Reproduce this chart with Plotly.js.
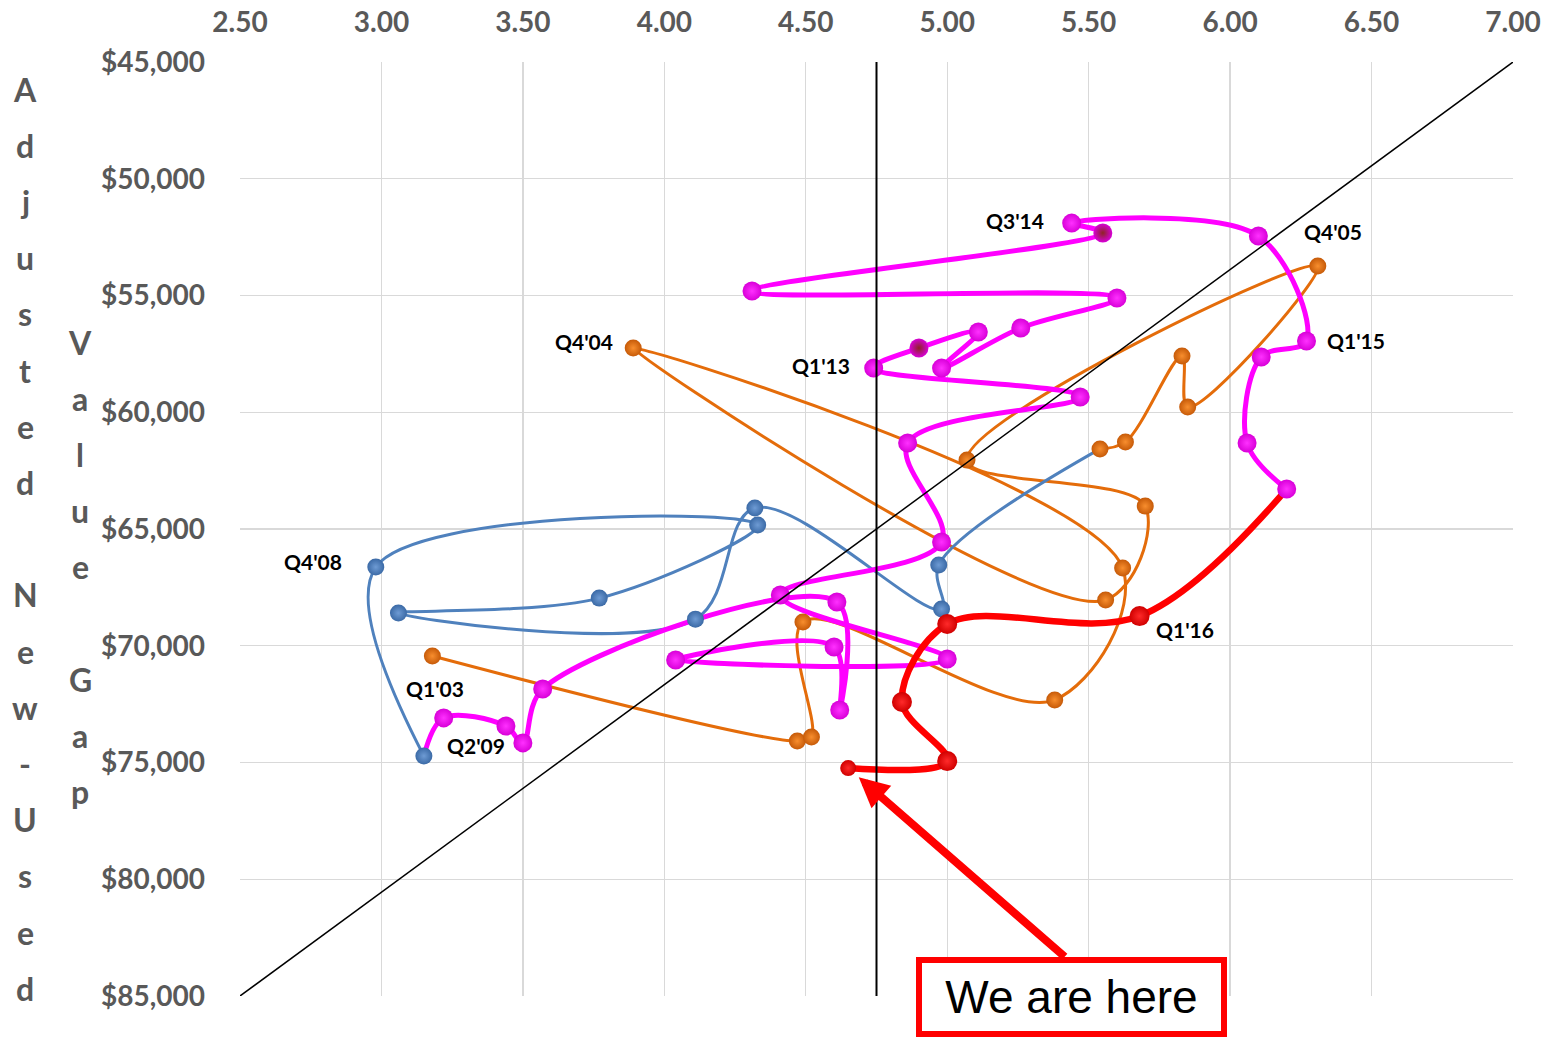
<!DOCTYPE html>
<html>
<head>
<meta charset="utf-8">
<script src="https://cdn.plot.ly/plotly-3.0.1.min.js"></script>
<style>
  html, body { margin: 0; padding: 0; background: #ffffff; }
  #chart { width: 1548px; height: 1038px; }
</style>
</head>
<body>
<div id="chart"></div>
<script>
// Quarterly path of the market indicator (x) against the adjusted new-used value gap (y).
// Each colour is one stretch of the path; consecutive stretches join end to start.

// 2003 Q1 - 2006 Q4
const orangeX = [3.18, 4.47, 4.52, 4.49, 5.38, 5.62, 3.89, 5.56, 5.70, 5.07, 6.31, 5.85, 5.83, 5.63, 5.54];
const orangeY = [70440, 74080, 73910, 68980, 72320, 66670, 57250, 68040, 64020, 62050, 53740, 59780, 57590, 61270, 61570];

// 2007 Q1 - 2009 Q1
const blueX = [4.97, 4.98, 4.32, 4.11, 3.06, 3.77, 4.33, 2.98, 3.15];
const blueY = [66540, 68430, 64100, 68860, 68600, 67960, 64830, 66630, 74720];

// 2009 Q2 - 2015 Q4
const magentaX = [3.22, 3.44, 3.50, 3.57, 4.61, 4.62, 4.60, 4.04, 5.00, 4.41, 4.98, 4.86, 5.47, 4.74,
                  4.90, 5.11, 4.98, 5.26, 5.60, 4.31, 5.55, 5.44, 6.10, 6.27, 6.11, 6.06, 6.20];
const magentaY = [73090, 73440, 74160, 71850, 68130, 72750, 70050, 70610, 70570, 67830, 65560, 61320, 59350, 58110,
                  57250, 56560, 58110, 56390, 55110, 54810, 52320, 51900, 52450, 56950, 57630, 61320, 63290];

// 2016 Q1 onward
const redX = [5.68, 5.00, 4.84, 5.00, 4.65];
const redY = [68730, 69070, 72410, 74940, 75240];

// Quarter labels attached to selected points
const labelText   = ["Q1'03", "Q4'04", "Q4'05", "Q4'08", "Q2'09", "Q1'13", "Q3'14", "Q1'15", "Q1'16"];
const labelSeries = ["orange", "orange", "orange", "blue", "magenta", "magenta", "magenta", "magenta", "red"];
const labelIndex  = [0, 6, 10, 7, 0, 13, 21, 23, 0];

// Axes
const xRange = [2.5, 7.0];
const yRange = [85000, 45000];
const xTicks = [2.5, 3.0, 3.5, 4.0, 4.5, 5.0, 5.5, 6.0, 6.5, 7.0];
const yTicks = [45000, 50000, 55000, 60000, 65000, 70000, 75000, 80000, 85000];
const xTickText = xTicks.map(v => v.toFixed(2));
const yTickText = yTicks.map(v => '$' + v.toLocaleString('en-US'));
const guideX = 4.75;

const axisTitleLines = ["Adjusted New-Used", "Value Gap"];
const calloutText = "We are here";

// ---------------------------------------------------------------
const series = {
  orange:  { x: orangeX,  y: orangeY,  line: '#E46C0A', width: 3,   edge: '#C65A08', glow: '#F88E2E', size: 17 },
  blue:    { x: blueX,    y: blueY,    line: '#4F81BD', width: 3,   edge: '#3B6AA6', glow: '#6E9BD4', size: 17 },
  magenta: { x: magentaX, y: magentaY, line: '#FF00FF', width: 5,   edge: '#D800D8', glow: '#FF30FF', size: 19 },
  red:     { x: redX,     y: redY,     line: '#FF0000', width: 6.5, edge: '#D00000', glow: '#FF2A2A', size: 20 }
};
const order = ['orange', 'blue', 'magenta', 'red'];

const traces = [];

// Lines: each stretch starts from the last point of the previous one
order.forEach((name, k) => {
  const s = series[name];
  let xs = s.x.slice(), ys = s.y.slice();
  if (k > 0) {
    const p = series[order[k - 1]];
    xs = [p.x[p.x.length - 1]].concat(xs);
    ys = [p.y[p.y.length - 1]].concat(ys);
  }
  traces.push({
    type: 'scatter', mode: 'lines', x: xs, y: ys, hoverinfo: 'skip', showlegend: false,
    line: { color: s.line, width: s.width, shape: 'spline', smoothing: 1 }
  });
});

// Markers drawn as small shaded spheres
order.forEach(name => {
  const s = series[name];
  const sizes = s.x.map(() => s.size);
  const glow = s.x.map(() => s.glow);
  if (name === 'red') sizes[sizes.length - 1] = 16;
  if (name === 'magenta') { glow[14] = '#8E2424'; glow[20] = '#8E2424'; }
  traces.push({
    type: 'scatter', mode: 'markers', x: s.x, y: s.y, hoverinfo: 'skip', showlegend: false,
    marker: { color: s.edge, size: sizes, opacity: 1, line: { width: 0 },
              gradient: { type: 'radial', color: glow } }
  });
});

// Reference lines: diagonal across the plot and the vertical guide
traces.push({
  type: 'scatter', mode: 'lines', x: [xRange[0], xRange[1]], y: [yRange[0], yRange[1]],
  hoverinfo: 'skip', showlegend: false, line: { color: '#000000', width: 1.5 }
});
traces.push({
  type: 'scatter', mode: 'lines', x: [guideX, guideX], y: [yRange[1], yRange[0]],
  hoverinfo: 'skip', showlegend: false, line: { color: '#000000', width: 2 }
});

// ---------------------------------------------------------------
const W = 1548, H = 1038;
const M = { l: 240, r: 35, t: 62, b: 42 };
const plotW = W - M.l - M.r, plotH = H - M.t - M.b;
const paperX = px => (px - M.l) / plotW;
const paperY = py => (H - M.b - py) / plotH;

const annotations = [];

// Point labels
const labelShift = {
  "Q1'03": [3, -32], "Q4'04": [-49, 7], "Q4'05": [15, 35], "Q4'08": [-63, 6], "Q2'09": [32, -28],
  "Q1'13": [-53, 3], "Q3'14": [-57, 3], "Q1'15": [50, 1], "Q1'16": [45, -13]
};
labelText.forEach((t, i) => {
  const s = series[labelSeries[i]];
  const sh = labelShift[t];
  annotations.push({
    x: s.x[labelIndex[i]], y: s.y[labelIndex[i]], xref: 'x', yref: 'y',
    text: t, showarrow: false, xshift: sh[0], yshift: sh[1],
    font: { family: 'Lato, sans-serif', size: 21, color: '#000000', weight: 700 }
  });
});

// Stacked letter axis title, two columns
const colX = [25, 80], colTop = [90, 343], letterStep = 56.2;
axisTitleLines.forEach((line, c) => {
  line.split('').forEach((ch, i) => {
    if (ch === ' ') return;
    annotations.push({
      xref: 'paper', yref: 'paper', x: paperX(colX[c]), y: paperY(colTop[c] + i * letterStep - 1),
      xanchor: 'center', yanchor: 'middle', text: ch, showarrow: false,
      font: { family: 'Lato, sans-serif', size: 32, color: '#595959', weight: 700 }
    });
  });
});

// Call-out: arrow to the latest point, then the boxed text
const lastX = redX[redX.length - 1], lastY = redY[redY.length - 1];
annotations.push({
  x: lastX, y: lastY, xref: 'x', yref: 'y', text: '', showarrow: true,
  ax: 218, ay: 190, axref: 'pixel', ayref: 'pixel',
  arrowhead: 2, arrowsize: 0.75, arrowwidth: 8, arrowcolor: '#FF0000', standoff: 14
});
annotations.push({
  xref: 'paper', yref: 'paper', x: paperX(1071), y: paperY(997), xanchor: 'center', yanchor: 'middle',
  text: calloutText, showarrow: false, bgcolor: '#FFFFFF', bordercolor: '#FF0000', borderwidth: 6,
  borderpad: 0, width: 299, height: 68,
  font: { family: 'Liberation Sans, Arial, sans-serif', size: 46, color: '#000000' }
});

const tickFont = { family: 'Lato, sans-serif', size: 28, color: '#595959', weight: 700 };

const layout = {
  width: W, height: H,
  margin: M,
  paper_bgcolor: '#FFFFFF', plot_bgcolor: '#FFFFFF',
  showlegend: false,
  xaxis: {
    side: 'top', range: xRange, tickmode: 'array', tickvals: xTicks, ticktext: xTickText,
    showgrid: true, gridcolor: '#D9D9D9', gridwidth: 1.3, zeroline: false, showline: false,
    ticks: '', ticklabelstandoff: 23, tickfont: tickFont, fixedrange: true
  },
  yaxis: {
    range: yRange, tickmode: 'array', tickvals: yTicks, ticktext: yTickText,
    showgrid: true, gridcolor: '#D9D9D9', gridwidth: 1.3, zeroline: false, showline: false,
    ticks: '', ticklabelstandoff: 34, tickfont: tickFont, fixedrange: true
  },
  annotations: annotations
};

Plotly.newPlot('chart', traces, layout, { staticPlot: true, displayModeBar: false });
</script>
</body>
</html>
